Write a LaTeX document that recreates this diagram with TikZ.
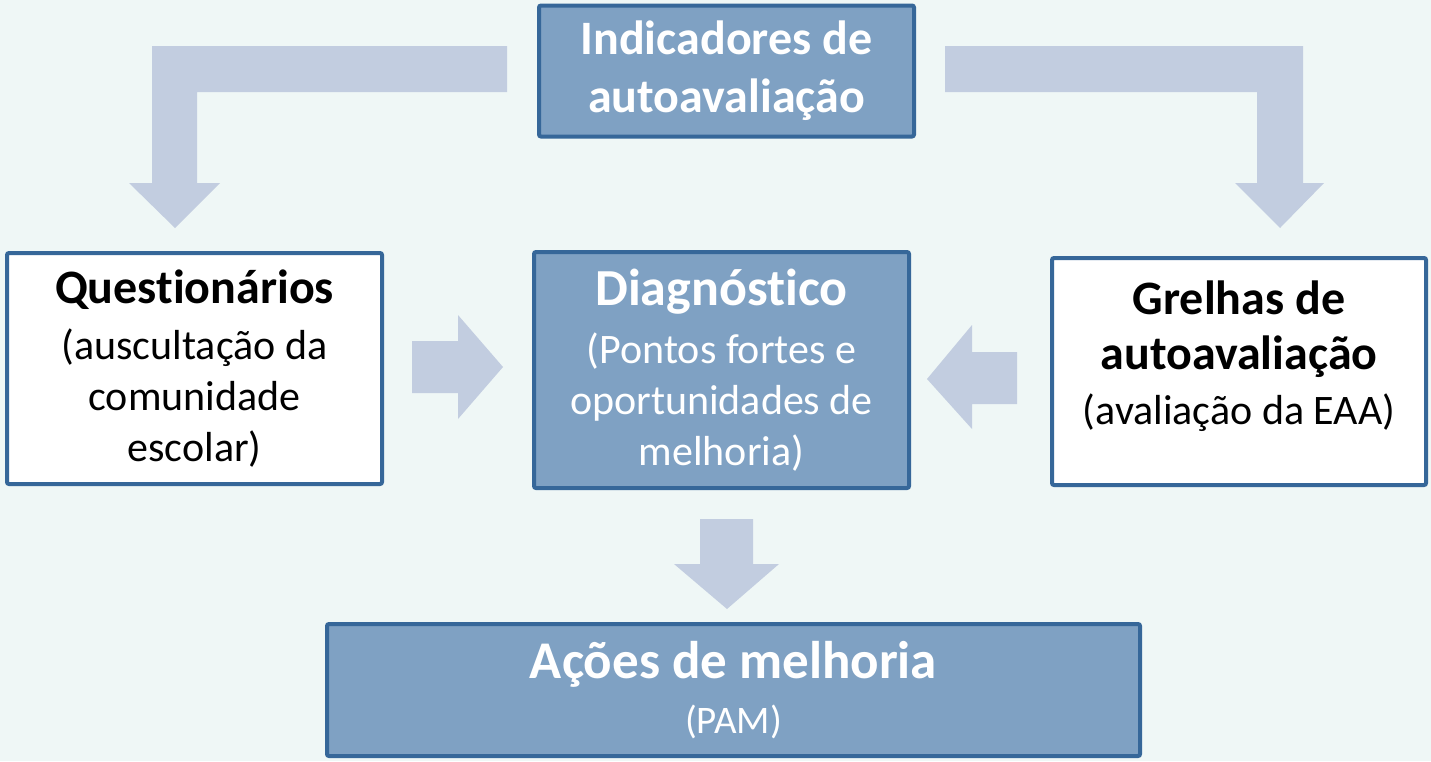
\documentclass[tikz,border=0pt]{standalone}
\usepackage{fontspec}
\setmainfont[RawFeature={-liga;-clig;-calt;-dlig}]{Carlito}
\definecolor{pagebg}{HTML}{EFF7F6}
\definecolor{boxfill}{HTML}{7FA1C3}
\definecolor{boxline}{HTML}{366799}
\definecolor{arrowfill}{HTML}{C2CDE0}
\tikzset{
  darkbox/.style={draw=boxline,fill=boxfill,line width=4pt,rounded corners=2pt,
    text=white,align=center,minimum width=375pt,inner sep=0pt},
  whitebox/.style={draw=boxline,fill=white,line width=4pt,rounded corners=2pt,
    text=black,align=center,minimum width=375pt,inner sep=0pt},
  blockarrow/.style={fill=arrowfill}
}

\begin{document}
\begin{tikzpicture}[x=1pt,y=-1pt]
\fill[pagebg] (0,0) rectangle (1431,761);
\useasboundingbox (0,0) rectangle (1431,761);

% bent arrows from the top box
\fill[blockarrow] (507,46) -- (152,46) -- (152,183) -- (129,183) -- (175,228)
  -- (220,183) -- (197,183) -- (197,92) -- (507,92) -- cycle;
\fill[blockarrow] (945,46) -- (1303,46) -- (1303,183) -- (1324,183) -- (1280,228)
  -- (1235,183) -- (1257,183) -- (1257,92) -- (945,92) -- cycle;

% straight arrows
\fill[blockarrow] (412,341) -- (458,341) -- (458,315) -- (503,367) -- (458,419)
  -- (458,393) -- (412,393) -- cycle;
\fill[blockarrow] (1017,352) -- (972,352) -- (972,325) -- (927,379) -- (972,429)
  -- (972,404) -- (1017,404) -- cycle;
\fill[blockarrow] (700,519) -- (753,519) -- (753,564) -- (779,564) -- (727,609)
  -- (674,564) -- (700,564) -- cycle;

% boxes
\node[darkbox,minimum height=131pt,font=\fontsize{48}{58}\selectfont\bfseries] (indicadores)
  at (726.5,71) {Indicadores de\\autoavaliação};
\node[whitebox,minimum height=231pt,font=\fontsize{42}{51}\selectfont] (questionarios)
  at (194.5,368.5) {{\fontsize{48}{51}\selectfont\bfseries Quest\kern0pt ionários}\\[5pt](auscultação da\\comunidade\\escolar)};
\node[darkbox,minimum height=236pt,font=\fontsize{42}{51}\selectfont] (diagnostico)
  at (721.5,370) {{\fontsize{52}{51}\selectfont\bfseries Diagnóst\kern0pt ico}\\[7pt](Pontos fortes e\\oportunidades de\\melhoria)};
\node[whitebox,minimum width=374pt,minimum height=227pt] (grelhas) at (1239,371.5) {};
\node[align=center,font=\fontsize{42}{55}\selectfont] (grelhastexto) at (1239,356)
  {{\fontsize{48}{55}\selectfont\bfseries Grelhas de}\\{\fontsize{48}{55}\selectfont\bfseries autoavaliação}\\(avaliação da EAA)};
\node[darkbox,minimum width=813pt,minimum height=132pt,font=\fontsize{39}{55}\selectfont] (acoes)
  at (733.5,690) {{\fontsize{53}{55}\selectfont\bfseries Ações de melhoria}\\(PAM)};

\end{tikzpicture}
\end{document}
